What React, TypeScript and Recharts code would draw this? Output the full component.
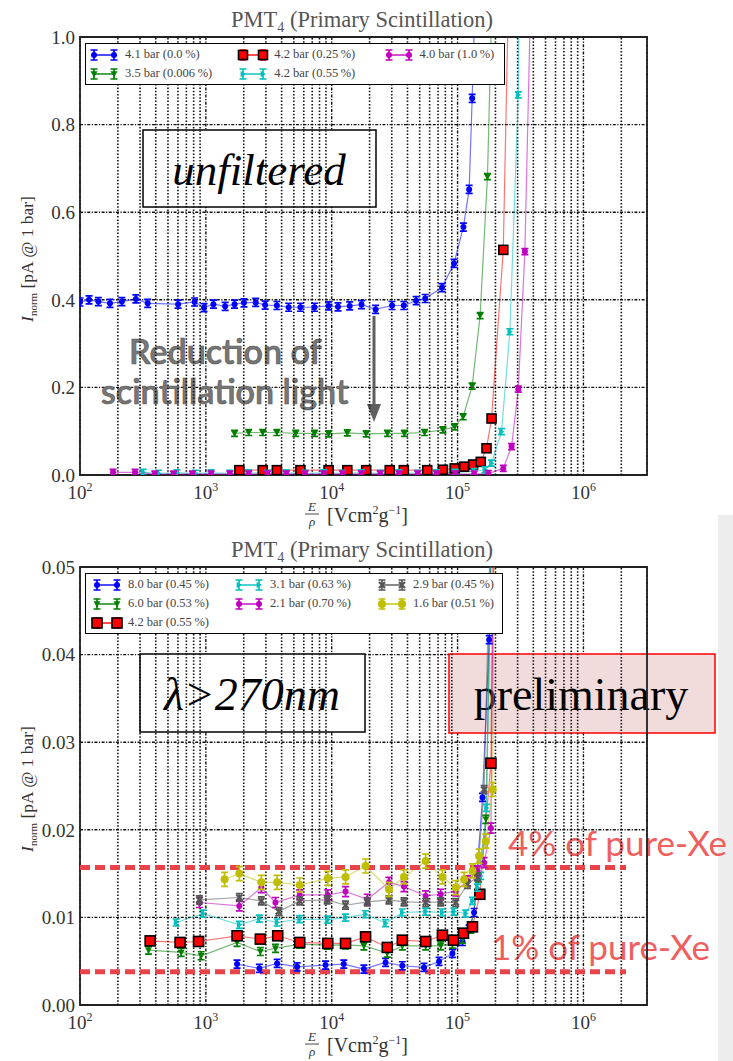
import React from 'react';
import { LineChart, Line, XAxis, YAxis, CartesianGrid, ReferenceLine, ReferenceArea, Legend } from 'recharts';

const SERIF = '"Liberation Serif", "DejaVu Serif", serif';
const SANS = 'Lato, "Open Sans", sans-serif';

// axis ticks (log x axis shared by both panels)
const xDomain = [100, 3.2e6];
const decadeTicks = [100, 1000, 10000, 100000, 1000000];
const minorTicks = [
  200, 300, 400, 500, 600, 700, 800, 900,
  2000, 3000, 4000, 5000, 6000, 7000, 8000, 9000,
  20000, 30000, 40000, 50000, 60000, 70000, 80000, 90000,
  200000, 300000, 400000, 500000, 600000, 700000, 800000, 900000,
  2000000,
];
const topYTicks = [0, 0.2, 0.4, 0.6, 0.8, 1.0];
const bottomYTicks = [0, 0.01, 0.02, 0.03, 0.04, 0.05];

// ---- top panel (unfiltered) ----
const top41 = [
  { x: 100, y: 0.395 }, { x: 118, y: 0.4 }, { x: 140, y: 0.396 }, { x: 173, y: 0.392 }, { x: 215, y: 0.396 },
  { x: 278, y: 0.402 }, { x: 345, y: 0.392 }, { x: 602, y: 0.39 }, { x: 814, y: 0.395 }, { x: 967, y: 0.382 },
  { x: 1148, y: 0.39 }, { x: 1423, y: 0.385 }, { x: 1690, y: 0.39 }, { x: 2008, y: 0.393 }, { x: 2490, y: 0.394 },
  { x: 2958, y: 0.388 }, { x: 3666, y: 0.387 }, { x: 4549, y: 0.383 }, { x: 5641, y: 0.383 }, { x: 7300, y: 0.383 },
  { x: 9445, y: 0.386 }, { x: 11220, y: 0.384 }, { x: 13900, y: 0.386 }, { x: 17250, y: 0.389 }, { x: 22330, y: 0.378 },
  { x: 30150, y: 0.387 }, { x: 37400, y: 0.387 }, { x: 46900, y: 0.398 }, { x: 55300, y: 0.403 }, { x: 75200, y: 0.428 },
  { x: 93700, y: 0.483 }, { x: 111200, y: 0.566 }, { x: 123600, y: 0.652 }, { x: 130600, y: 0.86 }, { x: 140000, y: 1.15 },
];
const top35 = [
  { x: 1690, y: 0.095 }, { x: 2188, y: 0.097 }, { x: 2830, y: 0.097 }, { x: 3666, y: 0.097 }, { x: 5180, y: 0.095 },
  { x: 7300, y: 0.095 }, { x: 9445, y: 0.094 }, { x: 13300, y: 0.096 }, { x: 18800, y: 0.094 }, { x: 27700, y: 0.095 },
  { x: 37800, y: 0.095 }, { x: 54700, y: 0.097 }, { x: 76500, y: 0.103 }, { x: 94800, y: 0.11 }, { x: 110700, y: 0.133 },
  { x: 130600, y: 0.203 }, { x: 151100, y: 0.364 }, { x: 172800, y: 0.681 }, { x: 190000, y: 1.15 },
];
const top42a = [
  { x: 1845, y: 0.011 }, { x: 2830, y: 0.011 }, { x: 3666, y: 0.011 }, { x: 5641, y: 0.011 }, { x: 9445, y: 0.011 },
  { x: 13300, y: 0.011 }, { x: 18800, y: 0.011 }, { x: 28900, y: 0.011 }, { x: 37400, y: 0.011 }, { x: 57400, y: 0.011 },
  { x: 76500, y: 0.012 }, { x: 94800, y: 0.015 }, { x: 112800, y: 0.019 }, { x: 133000, y: 0.024 }, { x: 152900, y: 0.03 },
  { x: 169800, y: 0.061 }, { x: 186200, y: 0.129 }, { x: 230800, y: 0.514 }, { x: 256000, y: 1.15 },
];
const top42b = [
  { x: 318, y: 0.006 }, { x: 420, y: 0.004 }, { x: 590, y: 0.005 }, { x: 826, y: 0.004 }, { x: 1100, y: 0.005 },
  { x: 1550, y: 0.004 }, { x: 2190, y: 0.005 }, { x: 3090, y: 0.004 }, { x: 4360, y: 0.005 }, { x: 6140, y: 0.004 },
  { x: 8650, y: 0.005 }, { x: 12200, y: 0.004 }, { x: 17200, y: 0.005 }, { x: 24300, y: 0.004 }, { x: 34300, y: 0.005 },
  { x: 48300, y: 0.004 }, { x: 68100, y: 0.005 }, { x: 96000, y: 0.006 }, { x: 135500, y: 0.008 }, { x: 165000, y: 0.012 },
  { x: 186200, y: 0.027 }, { x: 223500, y: 0.099 }, { x: 260400, y: 0.327 }, { x: 303800, y: 0.868 }, { x: 310000, y: 1.15 },
];
const top40 = [
  { x: 183, y: 0.006 }, { x: 274, y: 0.006 }, { x: 393, y: 0.002 }, { x: 554, y: 0.002 }, { x: 781, y: 0.002 },
  { x: 1101, y: 0.002 }, { x: 1553, y: 0.002 }, { x: 2188, y: 0.002 }, { x: 3090, y: 0.002 }, { x: 4355, y: 0.002 },
  { x: 6140, y: 0.002 }, { x: 8650, y: 0.002 }, { x: 12200, y: 0.002 }, { x: 17200, y: 0.002 }, { x: 24300, y: 0.002 },
  { x: 34300, y: 0.002 }, { x: 48300, y: 0.002 }, { x: 68100, y: 0.002 }, { x: 96000, y: 0.002 }, { x: 135500, y: 0.002 },
  { x: 175400, y: 0.003 }, { x: 230800, y: 0.015 }, { x: 268500, y: 0.065 }, { x: 303800, y: 0.196 }, { x: 342600, y: 0.51 },
  { x: 385000, y: 1.15 },
];

// ---- bottom panel (lambda > 270 nm) ----
const bot80 = [
  { x: 1770, y: 0.00467 }, { x: 2661, y: 0.00418 }, { x: 3683, y: 0.00475 }, { x: 5309, y: 0.00436 }, { x: 8933, y: 0.00456 },
  { x: 12470, y: 0.00467 }, { x: 18020, y: 0.0041 }, { x: 26790, y: 0.00486 }, { x: 36400, y: 0.00448 }, { x: 54100, y: 0.00429 },
  { x: 71300, y: 0.00497 }, { x: 91000, y: 0.00589 }, { x: 109400, y: 0.00725 }, { x: 123500, y: 0.00866 }, { x: 135300, y: 0.01056 },
  { x: 157800, y: 0.0237 }, { x: 178300, y: 0.0417 }, { x: 190000, y: 0.065 },
];
const bot60 = [
  { x: 350, y: 0.00626 }, { x: 637, y: 0.006 }, { x: 918, y: 0.00562 }, { x: 1770, y: 0.00714 }, { x: 2710, y: 0.00611 },
  { x: 3573, y: 0.00646 }, { x: 5570, y: 0.00695 }, { x: 9204, y: 0.00683 }, { x: 12880, y: 0.00687 }, { x: 18020, y: 0.00676 },
  { x: 27640, y: 0.00592 }, { x: 36400, y: 0.00676 }, { x: 55800, y: 0.00676 }, { x: 73500, y: 0.00676 }, { x: 91000, y: 0.00695 },
  { x: 109400, y: 0.00752 }, { x: 127400, y: 0.00866 }, { x: 147000, y: 0.0145 }, { x: 167800, y: 0.0212 }, { x: 192000, y: 0.065 },
];
const bot42 = [
  { x: 361, y: 0.00732 }, { x: 624, y: 0.00714 }, { x: 875, y: 0.00725 }, { x: 1770, y: 0.0079 }, { x: 2710, y: 0.00752 },
  { x: 3724, y: 0.0079 }, { x: 5570, y: 0.00714 }, { x: 9305, y: 0.00703 }, { x: 12880, y: 0.00703 }, { x: 18580, y: 0.00778 },
  { x: 27640, y: 0.00657 }, { x: 36400, y: 0.0074 }, { x: 55800, y: 0.00725 }, { x: 75800, y: 0.00797 }, { x: 92700, y: 0.0074 },
  { x: 111400, y: 0.0082 }, { x: 131400, y: 0.00892 }, { x: 150300, y: 0.01264 }, { x: 184100, y: 0.0276 }, { x: 196000, y: 0.065 },
];
const bot31 = [
  { x: 581, y: 0.00942 }, { x: 952, y: 0.01044 }, { x: 1845, y: 0.00915 }, { x: 2661, y: 0.00987 }, { x: 3683, y: 0.00942 },
  { x: 5570, y: 0.0098 }, { x: 9305, y: 0.00975 }, { x: 12880, y: 0.00998 }, { x: 18580, y: 0.01036 }, { x: 26790, y: 0.00934 },
  { x: 36400, y: 0.01056 }, { x: 55800, y: 0.01067 }, { x: 75800, y: 0.01056 }, { x: 93700, y: 0.01067 }, { x: 116200, y: 0.01044 },
  { x: 131400, y: 0.01188 }, { x: 143900, y: 0.0134 }, { x: 153000, y: 0.01473 }, { x: 170000, y: 0.0225 }, { x: 192000, y: 0.065 },
];
const bot21 = [
  { x: 889, y: 0.0117 }, { x: 1845, y: 0.01131 }, { x: 2760, y: 0.0134 }, { x: 3573, y: 0.0117 }, { x: 5570, y: 0.01257 },
  { x: 9305, y: 0.01256 }, { x: 12880, y: 0.01295 }, { x: 19170, y: 0.01207 }, { x: 28490, y: 0.014 }, { x: 37500, y: 0.01352 },
  { x: 55800, y: 0.01245 }, { x: 73500, y: 0.01264 }, { x: 96800, y: 0.01302 }, { x: 119900, y: 0.01416 }, { x: 143900, y: 0.0153 },
  { x: 162500, y: 0.01625 }, { x: 184100, y: 0.0202 }, { x: 197000, y: 0.065 },
];
const bot29 = [
  { x: 889, y: 0.012 }, { x: 1845, y: 0.01227 }, { x: 2760, y: 0.01188 }, { x: 3796, y: 0.01067 }, { x: 5570, y: 0.01188 },
  { x: 9204, y: 0.012 }, { x: 12880, y: 0.01139 }, { x: 19170, y: 0.01177 }, { x: 28490, y: 0.012 }, { x: 37500, y: 0.01177 },
  { x: 55800, y: 0.0117 }, { x: 73500, y: 0.01177 }, { x: 96800, y: 0.0117 }, { x: 119900, y: 0.01378 }, { x: 143900, y: 0.01462 },
  { x: 162500, y: 0.0246 }, { x: 190000, y: 0.065 },
];
const bot16 = [
  { x: 1409, y: 0.01435 }, { x: 1845, y: 0.015 }, { x: 2760, y: 0.014 }, { x: 3683, y: 0.014 }, { x: 5570, y: 0.0137 },
  { x: 9305, y: 0.01446 }, { x: 12880, y: 0.01462 }, { x: 18580, y: 0.01587 }, { x: 28490, y: 0.01321 }, { x: 37500, y: 0.01462 },
  { x: 55800, y: 0.01643 }, { x: 75800, y: 0.01462 }, { x: 96800, y: 0.0134 }, { x: 112700, y: 0.01435 }, { x: 131400, y: 0.0153 },
  { x: 148200, y: 0.017 }, { x: 167800, y: 0.0187 }, { x: 190100, y: 0.0246 }, { x: 198000, y: 0.065 },
];

// reference levels drawn on the lower panel
const pureXe4 = 0.0157;
const pureXe1 = 0.0038;

type Pt = { x: number; y: number };
type Marker = 'circle' | 'square' | 'triDown' | 'triRight' | 'cross';
type Series = { name: string; data: Pt[]; color: string; marker: Marker; size: number; err: number };

const BLUE = '#0000ff';
const GREEN = '#007f00';
const RED = '#ff0000';
const CYAN = '#00bfbf';
const MAGENTA = '#bf00bf';
const YELLOW = '#bfbf00';
const GRAY = '#555555';

const topSeries: Series[] = [
  { name: '4.1 bar (0.0\u2009%)', data: top41, color: BLUE, marker: 'circle', size: 6, err: 4 },
  { name: '3.5 bar (0.006\u2009%)', data: top35, color: GREEN, marker: 'triDown', size: 7, err: 3 },
  { name: '4.2 bar (0.25\u2009%)', data: top42a, color: RED, marker: 'square', size: 9, err: 3 },
  { name: '4.2 bar (0.55\u2009%)', data: top42b, color: CYAN, marker: 'triRight', size: 6, err: 3 },
  { name: '4.0 bar (1.0\u2009%)', data: top40, color: MAGENTA, marker: 'circle', size: 6, err: 3 },
];
const bottomSeries: Series[] = [
  { name: '8.0 bar (0.45\u2009%)', data: bot80, color: BLUE, marker: 'circle', size: 6, err: 4 },
  { name: '6.0 bar (0.53\u2009%)', data: bot60, color: GREEN, marker: 'triDown', size: 7, err: 4 },
  { name: '4.2 bar (0.55\u2009%)', data: bot42, color: RED, marker: 'square', size: 10, err: 3 },
  { name: '3.1 bar (0.63\u2009%)', data: bot31, color: CYAN, marker: 'triRight', size: 6, err: 3.5 },
  { name: '2.1 bar (0.70\u2009%)', data: bot21, color: MAGENTA, marker: 'circle', size: 6, err: 5 },
  { name: '2.9 bar (0.45\u2009%)', data: bot29, color: GRAY, marker: 'cross', size: 6, err: 4 },
  { name: '1.6 bar (0.51\u2009%)', data: bot16, color: YELLOW, marker: 'circle', size: 8, err: 7 },
];

function Glyph({ cx, cy, s, err }: { cx: number; cy: number; s: Series; err?: number }) {
  const c = s.color;
  const e = err ?? s.err;
  const h = s.size / 2;
  let mark: React.ReactNode;
  if (s.marker === 'square') {
    mark = <rect x={cx - h} y={cy - h} width={s.size} height={s.size} fill={c} stroke="#000" strokeWidth={1.6} />;
  } else if (s.marker === 'triDown') {
    mark = <polygon points={`${cx - h},${cy - h * 0.8} ${cx + h},${cy - h * 0.8} ${cx},${cy + h}`} fill={c} />;
  } else if (s.marker === 'triRight') {
    mark = <polygon points={`${cx - h * 0.8},${cy - h} ${cx - h * 0.8},${cy + h} ${cx + h},${cy}`} fill={c} />;
  } else if (s.marker === 'cross') {
    mark = <path d={`M${cx - h} ${cy - h}L${cx + h} ${cy + h}M${cx - h} ${cy + h}L${cx + h} ${cy - h}`} stroke={c} strokeWidth={2.2} />;
  } else {
    mark = <circle cx={cx} cy={cy} r={h} fill={c} />;
  }
  return (
    <g>
      <path
        d={`M${cx} ${cy - e}V${cy + e}M${cx - 3.5} ${cy - e}H${cx + 3.5}M${cx - 3.5} ${cy + e}H${cx + 3.5}`}
        stroke={c}
        strokeWidth={1.7}
        fill="none"
      />
      {mark}
    </g>
  );
}

const makeDot = (s: Series) => (props: any) => {
  const { cx, cy, index } = props;
  if (cx == null || cy == null || Number.isNaN(cy)) return <g key={`${s.name}-${index}`} />;
  return (
    <g key={`${s.name}-${index}`}>
      <Glyph cx={cx} cy={cy} s={s} />
    </g>
  );
};

// matplotlib fills legend columns top-down; split gives the item count per column
function LegendBox({ series, split, cols, padLeft, width }: { series: Series[]; split: number[]; cols: number[]; padLeft: number; width: number }) {
  let start = 0;
  const columns = split.map((n) => {
    const part = series.slice(start, start + n);
    start += n;
    return part;
  });
  return (
    <div
      style={{
        width,
        boxSizing: 'border-box',
        border: '1.5px solid #000',
        background: '#fff',
        padding: `1px 0 1px ${padLeft}px`,
        display: 'flex',
      }}
    >
      {columns.map((col, ci) => (
        <div key={ci} style={{ width: cols[ci] }}>
          {col.map((s) => (
            <div key={s.name} style={{ height: 19, display: 'flex', alignItems: 'center', fontFamily: SERIF, fontSize: 12.5, color: '#444', whiteSpace: 'nowrap' }}>
              <svg width={28} height={16} style={{ marginRight: 7, overflow: 'visible' }}>
                <line x1={4} x2={24} y1={8} y2={8} stroke={s.color} strokeWidth={1.4} />
                <Glyph cx={4} cy={8} s={s} err={5} />
                <Glyph cx={24} cy={8} s={s} err={5} />
              </svg>
              <span>{s.name}</span>
            </div>
          ))}
        </div>
      ))}
    </div>
  );
}

const PowTick = (props: any) => {
  const { x, y, payload } = props;
  const exp = Math.round(Math.log10(payload.value));
  return (
    <text x={x} y={y + 24} textAnchor="middle" fontFamily={SERIF} fontSize={19} fill="#333">
      10<tspan fontSize={12} dy={-8}>{exp}</tspan>
    </text>
  );
};

function AxisTexts() {
  return (
    <g fontFamily={SERIF} fill="#333">
      <text x={362} y={27} textAnchor="middle" fontSize={22.5} fill="#555">
        PMT<tspan fontSize={14} dy={5}>4</tspan>
        <tspan dy={-5}> (Primary Scintillation)</tspan>
      </text>
      <text x={33} y={259} textAnchor="middle" fontSize={17.5} transform="rotate(-90 33 259)">
        <tspan fontStyle="italic">I</tspan>
        <tspan fontSize={11} dy={4}>norm</tspan>
        <tspan dy={-4}> [pA @ 1 bar]</tspan>
      </text>
      <text x={312} y={511} textAnchor="middle" fontSize={13} fontStyle="italic">E</text>
      <line x1={305} x2={319} y1={514} y2={514} stroke="#333" strokeWidth={0.9} />
      <text x={312} y={526} textAnchor="middle" fontSize={13} fontStyle="italic">ρ</text>
      <text x={327} y={522} fontSize={20}>
        [Vcm<tspan fontSize={12} dy={-8}>2</tspan>
        <tspan dy={8}>g</tspan>
        <tspan fontSize={12} dy={-8}>−1</tspan>
        <tspan dy={8}>]</tspan>
      </text>
    </g>
  );
}

function Panel({ height, yMax, yTicks, digits, series, legend, children }: {
  height: number; yMax: number; yTicks: number[]; digits: number; series: Series[]; legend: React.ReactNode; children?: React.ReactNode;
}) {
  return (
    <LineChart width={733} height={height} margin={{ top: 37, right: 86, bottom: height - 37 - 438 - 30, left: 20 }}>
      <CartesianGrid stroke="#111" strokeWidth={1.4} strokeDasharray="3 1.5 1.2 1.5" />
      {minorTicks.map((t) => (
        <ReferenceLine key={t} x={t} stroke="#111" strokeWidth={1.6} strokeDasharray="1.5 1.8" />
      ))}
      <XAxis
        type="number"
        dataKey="x"
        scale="log"
        domain={xDomain}
        allowDataOverflow
        ticks={decadeTicks}
        tick={<PowTick />}
        tickLine={false}
        axisLine={false}
        tickSize={0}
        tickMargin={0}
        height={30}
      />
      <YAxis
        type="number"
        domain={[0, yMax]}
        allowDataOverflow
        ticks={yTicks}
        tickFormatter={(v: number) => v.toFixed(digits)}
        tick={{ fontFamily: SERIF, fontSize: 19, fill: '#333' }}
        tickLine={false}
        axisLine={false}
        tickSize={4}
        tickMargin={1}
        width={60}
      />
      {series.map((s) => (
        <Line
          key={s.name}
          data={s.data}
          dataKey="y"
          name={s.name}
          type="linear"
          stroke={s.color}
          strokeOpacity={0.55}
          strokeWidth={1.2}
          dot={makeDot(s)}
          activeDot={false}
          legendType="none"
          isAnimationActive={false}
        />
      ))}
      <ReferenceArea x1={xDomain[0]} x2={xDomain[1]} y1={0} y2={yMax} fill="none" fillOpacity={0} stroke="#222" strokeWidth={1.8} />
      <Legend verticalAlign="middle" align="center" wrapperStyle={{ top: 43, left: 85 }} content={() => legend} />
      <AxisTexts />
      {children}
    </LineChart>
  );
}

export default function App() {
  return (
    <div style={{ position: 'absolute', left: 0, top: 0, width: 733, height: 1061, background: '#fff' }}>
      <div style={{ position: 'absolute', left: 718, top: 515, width: 15, height: 546, background: '#ededed' }} />
      <div style={{ position: 'absolute', left: 0, top: 0 }}>
        <Panel
          height={530}
          yMax={1}
          yTicks={topYTicks}
          digits={1}
          series={topSeries}
          legend={<LegendBox series={topSeries} split={[2, 2, 1]} cols={[150, 146, 120]} padLeft={4} width={420} />}
        >
          <rect x={143} y={130} width={233} height={77} fill="#fff" stroke="#000" strokeWidth={1.5} />
          <text x={259} y={185} textAnchor="middle" fontFamily={SERIF} fontStyle="italic" fontSize={45}>unfiltered</text>
          <text x={129} y={364} fontFamily={SANS} fontSize={34} fontWeight={600} fill="#777" stroke="#555" strokeWidth={0.6}>Reduction of</text>
          <text x={101} y={404} fontFamily={SANS} fontSize={34} fontWeight={600} fill="#777" stroke="#555" strokeWidth={0.6}>scintillation light</text>
          <line x1={374} y1={316} x2={374} y2={406} stroke="#5e5e5e" strokeWidth={3} />
          <polygon points="367,404 381,404 374,422" fill="#5e5e5e" />
        </Panel>
      </div>
      <div style={{ position: 'absolute', left: 0, top: 530 }}>
        <Panel
          height={531}
          yMax={0.05}
          yTicks={bottomYTicks}
          digits={2}
          series={bottomSeries}
          legend={<LegendBox series={bottomSeries} split={[3, 2, 2]} cols={[142, 143, 120]} padLeft={7} width={418} />}
        >
          <ReferenceLine
            segment={[{ x: 100, y: pureXe4 }, { x: 2.18e6, y: pureXe4 }]}
            ifOverflow="visible"
            stroke="#e8434a"
            strokeWidth={5}
            strokeDasharray="10 5"
          />
          <ReferenceLine
            segment={[{ x: 100, y: pureXe1 }, { x: 2.18e6, y: pureXe1 }]}
            ifOverflow="visible"
            stroke="#e8434a"
            strokeWidth={5}
            strokeDasharray="10 5"
          />
          <rect x={140} y={124} width={225} height={78} fill="#fff" stroke="#000" strokeWidth={1.5} />
          <text x={252} y={180} textAnchor="middle" fontFamily={SERIF} fontStyle="italic" fontSize={46}>λ&gt;270nm</text>
          <rect x={449} y={124} width={266} height={79} fill="#f2dcdb" stroke="#ff0000" strokeWidth={1.5} />
          <text x={581} y={180} textAnchor="middle" fontFamily={SERIF} fontSize={46}>preliminary</text>
          <text x={508} y={326} fontFamily={SANS} fontSize={35} fill="#ef5f5f">4% of pure-Xe</text>
          <text x={491} y={430} fontFamily={SANS} fontSize={35} fill="#ef5f5f">1% of pure-Xe</text>
        </Panel>
      </div>
    </div>
  );
}
